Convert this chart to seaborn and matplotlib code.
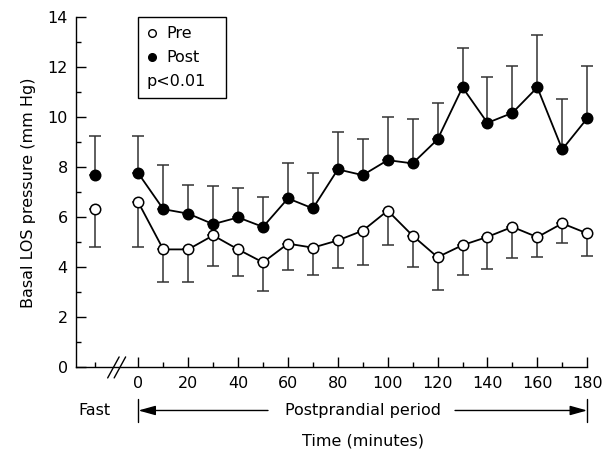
import numpy as np
import pandas as pd
import seaborn as sns
import matplotlib.pyplot as plt
import matplotlib.transforms as mtransforms
from matplotlib.patches import Rectangle
from matplotlib.ticker import FixedLocator

# Datos (media y error, mm Hg)
tiempos = list(range(0, 190, 10))
pre_media = [6.60, 4.72, 4.72, 5.28, 4.72, 4.20, 4.95, 4.79, 5.08, 5.47,
             6.27, 5.27, 4.41, 4.89, 5.22, 5.62, 5.21, 5.76, 5.36]
pre_error = [1.79, 1.32, 1.32, 1.21, 1.05, 1.13, 1.06, 1.11, 1.12, 1.39,
             1.37, 1.24, 1.32, 1.20, 1.30, 1.26, 0.79, 0.78, 0.92]
post_media = [7.76, 6.33, 6.15, 5.73, 6.00, 5.62, 6.76, 6.36, 7.92, 7.69,
              8.29, 8.16, 9.12, 11.20, 9.78, 10.18, 11.20, 8.72, 9.96]
post_error = [1.49, 1.77, 1.14, 1.51, 1.16, 1.21, 1.43, 1.43, 1.48, 1.44,
              1.71, 1.77, 1.46, 1.58, 1.84, 1.86, 2.08, 2.02, 2.08]

# Periodo de ayuno (punto aislado a la izquierda del corte)
ayuno_x = -17.5
ayuno_pre = 6.33
ayuno_pre_error = 1.52
ayuno_post = 7.69
ayuno_post_error = 1.56

etiquetas_x = [0, 20, 40, 60, 80, 100, 120, 140, 160, 180]
etiquetas_y = [0, 2, 4, 6, 8, 10, 12, 14]

datos = pd.DataFrame({
    'tiempo': tiempos * 2,
    'presion': pre_media + post_media,
    'grupo': ['Pre'] * len(tiempos) + ['Post'] * len(tiempos),
})

sns.set_style('ticks')
plt.rcParams['font.family'] = ['DejaVu Sans']
plt.rcParams['font.size'] = 11.5
for clave in ['text.color', 'axes.labelcolor', 'xtick.color', 'ytick.color', 'axes.edgecolor']:
    plt.rcParams[clave] = 'black'

fig = plt.figure(figsize=(6.1, 4.57), dpi=100)
ax = fig.add_axes([0.1246, 0.196, 0.838, 0.766])

tam = 7.5
# Barras de error de un solo lado: Pre hacia abajo, Post hacia arriba
ceros = np.zeros(len(tiempos))
ax.errorbar(tiempos, pre_media, yerr=[pre_error, ceros], fmt='none',
            ecolor='#333333', elinewidth=1.1, capsize=4.5, capthick=1.1, zorder=2)
ax.errorbar(tiempos, post_media, yerr=[ceros, post_error], fmt='none',
            ecolor='#333333', elinewidth=1.1, capsize=4.5, capthick=1.1, zorder=2)
ax.errorbar([ayuno_x], [ayuno_pre], yerr=[[ayuno_pre_error], [0]], fmt='o',
            color='#333333', mfc='white', mec='black', mew=1.1, ms=tam,
            elinewidth=1.1, capsize=4.5, capthick=1.1, zorder=3)
ax.errorbar([ayuno_x], [ayuno_post], yerr=[[0], [ayuno_post_error]], fmt='o',
            color='#333333', mfc='black', mec='black', mew=1.1, ms=tam,
            elinewidth=1.1, capsize=4.5, capthick=1.1, zorder=3)

sns.lineplot(data=datos[datos.grupo == 'Post'], x='tiempo', y='presion', ax=ax,
             color='black', marker='o', markersize=tam, markerfacecolor='black',
             markeredgecolor='black', markeredgewidth=1.1, linewidth=1.3,
             zorder=4, legend=False)
sns.lineplot(data=datos[datos.grupo == 'Pre'], x='tiempo', y='presion', ax=ax,
             color='black', marker='o', markersize=tam, markerfacecolor='white',
             markeredgecolor='black', markeredgewidth=1.1, linewidth=1.3,
             zorder=5, legend=False)

for artista in ax.get_children():
    try:
        artista.set_clip_on(False)
    except Exception:
        pass

ax.set_xlim(-25, 180)
ax.set_ylim(0, 14)
ax.set_xticks(etiquetas_x)
ax.xaxis.set_minor_locator(FixedLocator([ayuno_x] + list(range(10, 180, 20))))
ax.set_yticks(etiquetas_y)
ax.yaxis.set_minor_locator(FixedLocator(list(range(1, 14, 2))))
ax.tick_params(which='major', direction='in', length=7, width=1, labelsize=11.5, pad=6)
ax.tick_params(which='minor', direction='in', length=3.5, width=1)
ax.set_xlabel('')
ax.set_ylabel('Basal LOS pressure (mm Hg)', fontsize=11.5, labelpad=8)
sns.despine(ax=ax)
for lado in ['left', 'bottom']:
    ax.spines[lado].set_linewidth(1)

# Marca de corte "//" en el eje x
mezcla = mtransforms.blended_transform_factory(ax.transData, ax.transAxes)
for desplazamiento in [0, 2.6]:
    ax.plot([-12.3 + desplazamiento, -7.7 + desplazamiento], [-0.03, 0.03],
            transform=mezcla, color='black', lw=1, clip_on=False)

# Leyenda dibujada a mano
ax.add_patch(Rectangle((0.121, 0.769), 0.173, 0.231, transform=ax.transAxes,
                       fill=False, edgecolor='black', lw=1, clip_on=False))
ax.plot([0.148], [0.954], 'o', transform=ax.transAxes, ms=5.5, mfc='white',
        mec='black', mew=1, clip_on=False)
ax.plot([0.148], [0.886], 'o', transform=ax.transAxes, ms=5.5, mfc='black',
        mec='black', mew=1, clip_on=False)
ax.text(0.176, 0.954, 'Pre', transform=ax.transAxes, va='center', ha='left')
ax.text(0.176, 0.886, 'Post', transform=ax.transAxes, va='center', ha='left')
ax.text(0.137, 0.818, 'p<0.01', transform=ax.transAxes, va='center', ha='left')

# Anotaciones inferiores
y_flecha = -0.123
ax.text(ayuno_x, y_flecha, 'Fast', transform=mezcla, ha='center', va='center')
ax.text(90, y_flecha, 'Postprandial period', transform=mezcla, ha='center', va='center')
ax.text(90, -0.209, 'Time (minutes)', transform=mezcla, ha='center', va='center')
for x_fin in [0, 180]:
    ax.plot([x_fin, x_fin], [-0.089, -0.157], transform=mezcla, color='black',
            lw=1, clip_on=False)
estilo = dict(arrowstyle='-|>,head_length=0.9,head_width=0.25', color='black',
              lw=1, shrinkA=0, shrinkB=0)
ax.annotate('', xy=(0, y_flecha), xytext=(52, y_flecha), xycoords=mezcla,
            textcoords=mezcla, arrowprops=estilo)
ax.annotate('', xy=(180, y_flecha), xytext=(127, y_flecha), xycoords=mezcla,
            textcoords=mezcla, arrowprops=estilo)

fig.savefig('out.png', dpi=100)
